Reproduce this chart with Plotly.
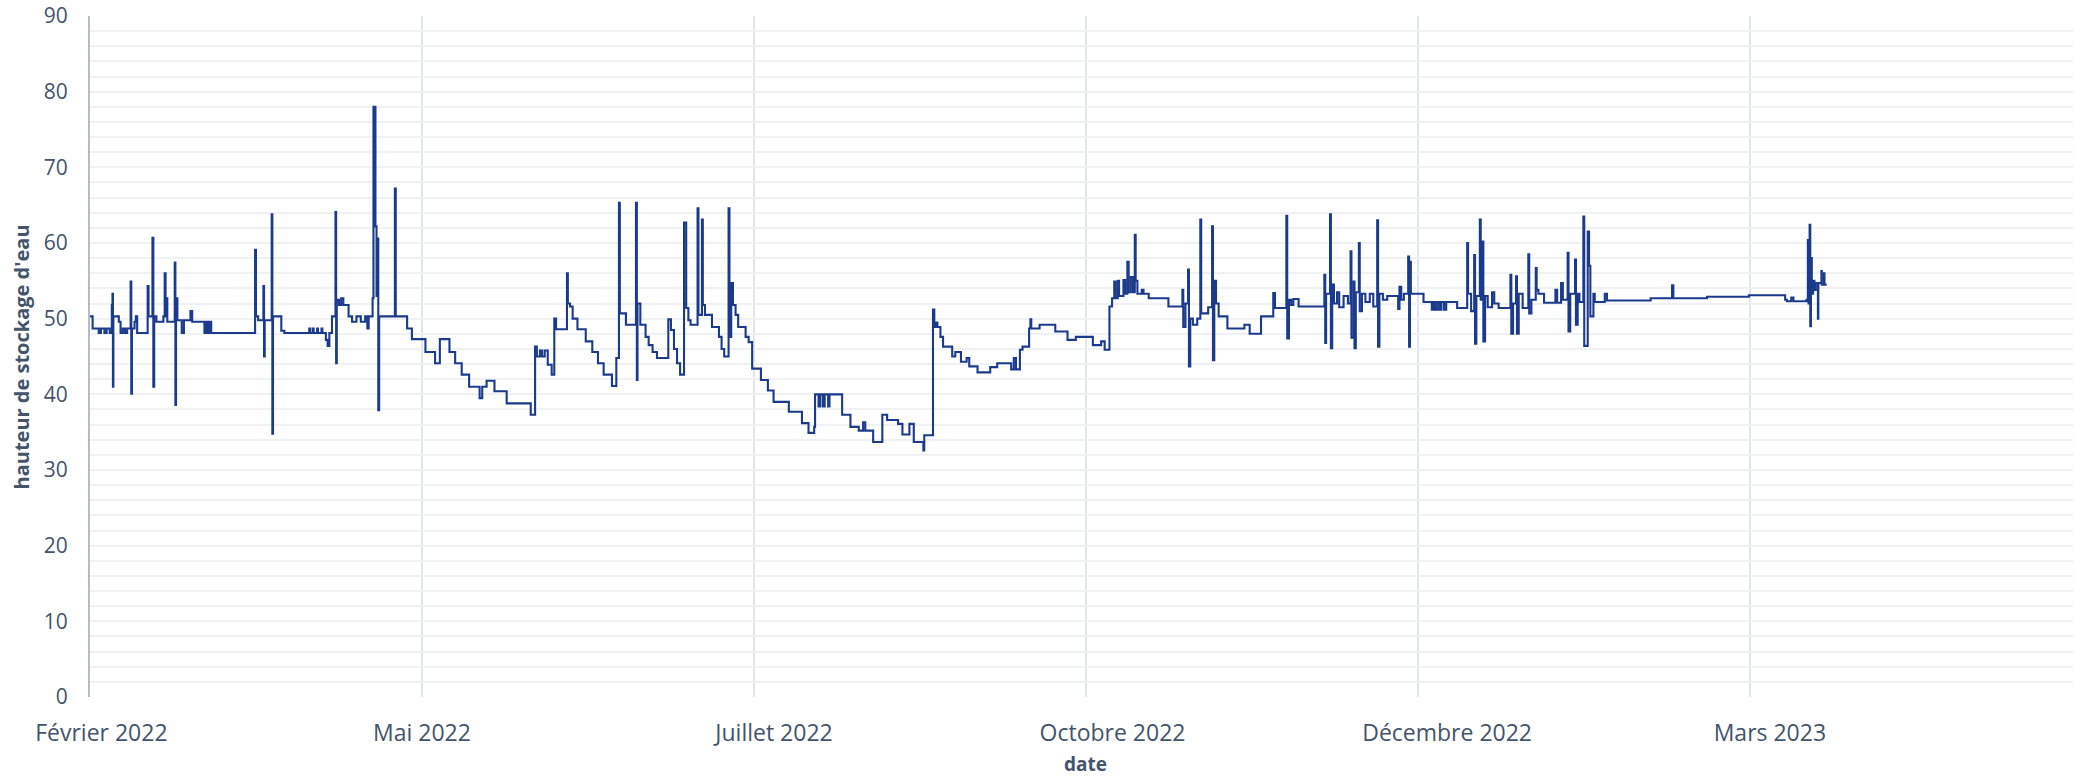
import pandas as pd
import plotly.graph_objects as go

# ---- data -------------------------------------------------------------
date_debut = "2022-02-15"          # first measurement
# elapsed days since date_debut (step series, value holds until next entry)
jours = [
    0, 0.6, 2.0, 2.5, 3.3, 3.8, 4.5, 5.0, 5.15, 5.25, 5.35, 6.6, 7.0, 7.5, 8.0, 8.5,
    9.3, 9.45, 9.6, 10.2, 10.5, 10.8, 13.2, 13.4, 14.3, 14.5, 14.7, 15.2, 16.8, 17.1,
    17.3, 17.5, 17.7, 19.4, 19.55, 19.7, 20.0, 21.0, 21.5, 23.0, 23.4, 26.2, 26.6, 27.0,
    27.4, 27.75, 37.8, 38.0, 38.5, 39.7, 39.85, 40.0, 41.6, 41.75, 41.9, 43.8, 44.5,
    50.2, 50.4, 51.0, 51.2, 52.0, 52.2, 53.0, 53.2, 54.0, 54.4, 54.8, 55.4, 56.2, 56.35,
    56.5, 57.0, 57.5, 58.0, 59.2, 60.0, 61.0, 62.0, 63.0, 63.5, 63.8, 64.7, 64.9, 65.2,
    65.35, 65.6, 65.85, 66.0, 66.2, 69.8, 70.0, 72.6, 73.7, 76.8, 79.0, 80.1, 82.3, 83.6,
    85.1, 86.8, 89.2, 89.8, 90.8, 92.6, 95.4, 100.9, 101.9, 102.3, 103.0, 103.5, 104.1,
    104.8, 105.7, 106.3, 106.7, 109.2, 109.4, 109.9, 110.5, 111.6, 113.5, 115.0, 116.3,
    117.6, 119.5, 120.5, 121.1, 121.3, 122.1, 122.7, 125.0, 125.2, 125.35, 126.0, 127.2,
    127.9, 128.8, 129.8, 132.4, 133.0, 133.7, 134.4, 135.1, 136.0, 136.5, 137.0, 137.5,
    139.1, 139.3, 140.1, 140.3, 140.8, 142.4, 144.0, 144.6, 145.2, 146.2, 146.4, 146.8,
    147.2, 147.8, 148.4, 150.1, 150.8, 151.6, 153.6, 155.2, 156.5, 160.0, 163.0, 164.5,
    165.8, 166.0, 166.8, 167.2, 167.8, 168.2, 169.0, 169.3, 172.2, 174.1, 176.0, 177.0,
    177.5, 179.3, 181.4, 182.5, 185.0, 186.0, 187.6, 188.6, 190.8, 191.0, 193.0, 193.3,
    193.7, 194.0, 194.7, 195.3, 197.4, 198.1, 199.4, 200.7, 201.3, 203.2, 206.1, 207.7,
    210.9, 211.5, 212.0, 212.9, 213.5, 214.5, 215.0, 215.3, 215.5, 217.4, 221.0, 223.8,
    225.7, 229.6, 231.5, 232.3, 233.4, 234.0, 234.5, 234.8, 235.3, 235.6, 236.6, 237.0,
    237.5, 237.8, 238.3, 238.8, 239.2, 239.4, 239.8, 240.8, 241.2, 242.4, 246.9, 250.1,
    250.3, 250.8, 251.4, 251.6, 251.9, 252.5, 253.5, 254.2, 254.4, 256.0, 256.9, 257.1,
    257.4, 257.8, 258.4, 260.4, 264.3, 265.5, 268.1, 270.9, 271.3, 273.9, 274.1, 274.5,
    275.0, 275.5, 276.7, 282.6, 282.8, 283.0, 283.9, 284.1, 284.4, 284.8, 285.5, 286.0,
    287.0, 288.0, 288.6, 288.8, 289.3, 289.5, 289.8, 290.5, 290.7, 291.2, 292.0, 293.0,
    293.8, 294.7, 294.9, 295.2, 296.0, 297.0, 299.5, 299.8, 300.2, 300.8, 301.8, 302.0,
    302.2, 302.4, 304.7, 305.3, 307.2, 307.6, 308.0, 308.5, 309.0, 309.4, 310.0, 310.5,
    313.0, 315.3, 315.5, 316.2, 316.9, 317.1, 317.4, 318.2, 318.4, 318.8, 319.0, 319.4,
    320.0, 321.0, 321.5, 322.5, 325.2, 325.4, 325.8, 326.5, 326.7, 327.1, 328.0, 329.3,
    329.5, 330.0, 331.0, 331.2, 331.6, 332.9, 335.5, 335.9, 336.8, 337.2, 338.3, 338.5,
    338.9, 340.0, 340.2, 340.6, 341.0, 341.9, 342.1, 342.9, 343.2, 343.5, 344.2, 344.5,
    346.8, 347.3, 357.3, 362.2, 362.5, 370.2, 379.8, 388.1, 388.5, 389.5, 390.0, 393.0,
    393.3, 393.45, 393.7, 393.85, 394.0, 394.2, 394.5, 394.8, 395.1, 395.6, 395.7, 396.4,
    396.5, 397.0, 397.1, 397.6,
]
hauteur = [
    50.3, 48.7, 48.1, 48.7, 48.1, 48.7, 48.1, 51.8, 53.3, 41.0, 50.3, 49.6, 48.1, 48.7, 48.1, 48.7,
    54.9, 40.1, 48.7, 49.6, 50.3, 48.1, 54.3, 50.3, 60.7, 41.0, 50.3, 49.6, 50.3, 56.0,
    50.3, 52.7, 49.6, 57.4, 38.6, 52.7, 49.8, 48.1, 49.8, 51.0, 49.6, 48.1, 49.6, 48.1,
    49.6, 48.1, 59.1, 50.3, 49.8, 54.3, 45.0, 49.8, 63.8, 34.8, 50.3, 48.4, 48.1,
    48.7, 48.1, 48.7, 48.1, 48.7, 48.1, 48.7, 48.1, 47.2, 46.4, 48.1, 50.3, 64.1, 44.1,
    52.5, 51.8, 52.7, 51.8, 50.3, 49.6, 50.3, 49.6, 50.3, 48.7, 50.3, 52.7, 78.0, 78.0,
    62.2, 53.0, 60.6, 37.9, 50.3, 67.2, 50.3, 48.7, 47.3, 45.6, 44.1, 47.3, 45.6, 44.1,
    42.6, 41.0, 39.5, 41.0, 41.8, 40.4, 38.8, 37.3, 46.3, 45.0, 45.8, 45.0, 45.8,
    43.9, 42.6, 50.0, 48.6, 56.0, 52.0, 51.6, 50.0, 48.6, 47.0, 45.6, 44.1,
    42.6, 41.1, 44.8, 65.3, 50.7, 50.7, 49.2, 65.3, 41.9, 52.0, 49.2, 47.6,
    46.5, 45.6, 44.8, 49.9, 48.5, 46.0, 44.1, 42.6, 62.7, 51.4, 49.8, 49.2,
    64.6, 50.5, 63.1, 51.8, 50.5, 48.9, 47.6, 46.0, 45.0, 64.6, 47.6, 54.7,
    51.8, 50.5, 48.9, 47.6, 46.9, 43.4, 41.9, 40.5, 39.0, 37.7, 36.2, 34.9,
    35.7, 40.0, 38.4, 40.0, 38.4, 40.0, 38.4, 40.0, 37.3, 35.7, 35.2, 36.3,
    35.2, 33.7, 37.3, 36.6, 36.1, 34.7, 36.1, 33.7, 32.6, 34.6, 51.2, 48.9,
    49.5, 48.9, 47.6, 46.3, 45.0, 45.6, 44.3, 44.8, 43.7, 42.9, 43.6, 44.1,
    43.3, 44.8, 43.3, 45.9, 46.3, 46.3, 48.7, 49.9, 48.7, 49.2, 48.3, 47.2,
    47.6, 46.5, 47.0, 45.9, 51.6, 52.7, 54.9, 52.7, 55.0, 53.0, 55.1, 53.3,
    57.5, 53.5, 55.5, 53.5, 61.1, 55.0, 53.3, 53.8, 53.3, 52.7, 51.6, 53.8,
    48.9, 52.0, 56.5, 43.7, 50.0, 49.2, 50.0, 63.1, 50.7, 51.5, 62.2, 44.5,
    55.0, 52.0, 50.3, 48.7, 49.2, 48.0, 50.3, 53.4, 51.4, 63.6, 47.4, 52.5,
    51.8, 52.6, 51.6, 55.8, 46.8, 53.3, 63.8, 46.1, 54.5, 52.0, 53.5, 51.5,
    53.0, 52.0, 58.9, 47.5, 54.9, 46.1, 53.5, 60.0, 51.0, 53.3, 52.2, 53.3,
    51.6, 63.0, 46.3, 53.3, 52.5, 53.0, 51.3, 54.2, 52.5, 53.3, 58.2, 46.3,
    57.5, 53.3, 53.3, 52.2, 51.2, 52.2, 51.2, 52.2, 51.2, 52.2, 51.2, 52.2,
    51.4, 60.0, 53.3, 51.0, 58.4, 46.7, 53.0, 63.1, 52.5, 60.2, 47.0, 53.0,
    51.5, 53.5, 52.0, 51.4, 55.8, 48.0, 52.0, 55.6, 48.0, 53.3, 51.4, 58.5,
    50.7, 52.5, 56.7, 53.8, 53.3, 52.1, 53.8, 52.1, 54.7, 52.5, 58.7, 48.3,
    53.3, 57.8, 49.2, 53.3, 52.2, 63.5, 46.4, 61.5, 57.0, 50.3, 53.3, 52.2,
    53.3, 52.4, 52.7, 54.4, 52.7, 52.9, 53.1, 52.5, 52.3, 52.8, 52.3, 52.5,
    60.4, 52.0, 62.4, 49.0, 58.0, 53.3, 55.0, 53.8, 54.7, 50.0, 54.7, 56.3,
    54.5, 56.0, 54.5, 54.5,
]

# vertical gridlines (elapsed days) and month labels (elapsed days)
grille_jours = [0, 76, 152, 228, 304, 380]
label_jours = [2.6, 76, 156.6, 234.1, 310.7, 384.6]
tick_labels = ["Février 2022", "Mai 2022", "Juillet 2022", "Octobre 2022",
               "Décembre 2022", "Mars 2023"]
axe_fin_jours = 454
titre_x = "date"
titre_y = "hauteur de stockage d'eau"

# ---- figure -----------------------------------------------------------
t0 = pd.Timestamp(date_debut)
x = t0 + pd.to_timedelta(jours, unit="D")
gridvals = t0 + pd.to_timedelta(grille_jours, unit="D")
labelvals = t0 + pd.to_timedelta(label_jours, unit="D")

txt = "#44546a"
font = "Open Sans, Noto Sans, sans-serif"

fig = go.Figure()
fig.add_trace(go.Scatter(
    x=x, y=hauteur, mode="lines", line_shape="hv",
    line=dict(color="#1b3a8c", width=2.1), showlegend=False,
))

fig.update_layout(
    width=2077, height=777,
    margin=dict(l=90, r=4, t=16, b=80),
    paper_bgcolor="white", plot_bgcolor="white",
    font=dict(family=font, color=txt, size=21),
    annotations=[
        dict(text=f"<b>{titre_y}</b>", xref="paper", yref="paper",
             x=-0.0343, y=0.5, xanchor="center", yanchor="middle",
             textangle=-90, showarrow=False, font=dict(size=20, color=txt)),
        dict(text=f"<b>{titre_x}</b>", xref="paper", yref="paper",
             x=0.502, y=-0.099, xanchor="center", yanchor="middle",
             showarrow=False, font=dict(size=19, color=txt)),
    ],
)
fig.update_xaxes(
    type="date", automargin=False,
    range=[t0, t0 + pd.Timedelta(days=axe_fin_jours)],
    tickmode="array", tickvals=labelvals, ticktext=tick_labels,
    showgrid=False,
    minor=dict(tickmode="array", tickvals=gridvals, showgrid=True,
               gridcolor="#e1e5ec", gridwidth=1.5, ticks=""),
    showline=False, zeroline=False, ticks="",
    ticklabelstandoff=20, ticklabeloverflow="allow",
    tickfont=dict(size=23, color=txt),
)
fig.update_yaxes(
    range=[0, 90], dtick=10, tick0=0, automargin=False,
    showgrid=True, gridcolor="#f0f1f3", gridwidth=1.5,
    minor=dict(dtick=2, showgrid=True, gridcolor="#f0f1f3", gridwidth=1.5),
    showline=True, linecolor="#b3bccb", linewidth=2,
    zeroline=False, ticks="",
    ticklabelstandoff=16, ticklabeloverflow="allow",
    tickfont=dict(size=21, color=txt),
)

# remove the default page margin so the figure fills the window exactly
fig.write_html(
    "out.html",
    config={"displayModeBar": False},
    post_script="document.body.style.margin='0';document.body.style.overflow='hidden';",
)
